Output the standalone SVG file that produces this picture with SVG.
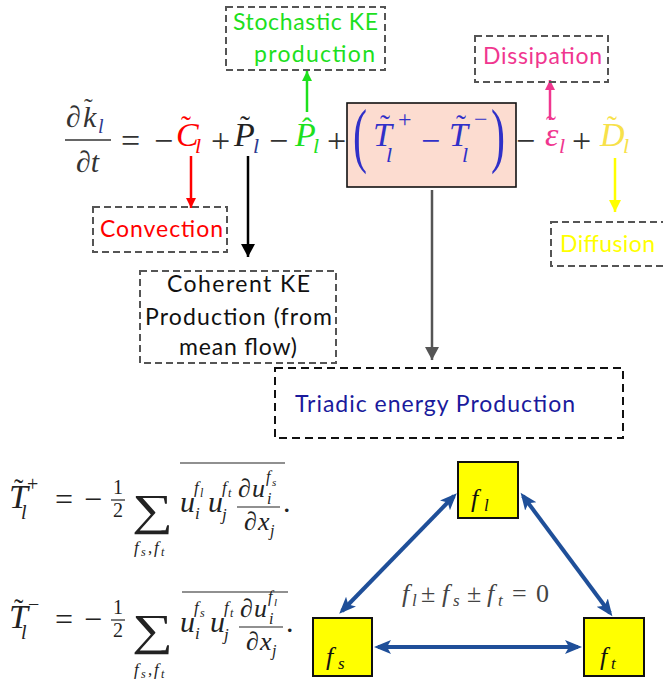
<svg xmlns="http://www.w3.org/2000/svg" width="663" height="694" viewBox="0 0 663 694">
<style>
.m{font-family:"Liberation Serif","Times New Roman",serif;}
.i{font-style:italic;}
.lab{font-family:Lato,"Liberation Sans",sans-serif;font-size:23px;}
.db{fill:none;stroke:#555;stroke-width:2;stroke-dasharray:7 4;}
.nd{fill:#ffff00;stroke:#111;stroke-width:2;}
.op{fill:#333;}
</style>
<defs>
<marker id="aG" markerUnits="userSpaceOnUse" markerWidth="12" markerHeight="10" refX="10" refY="5" orient="auto"><path d="M0,0 L10,5 L0,10 z" fill="#1de01d"/></marker>
<marker id="aP" markerUnits="userSpaceOnUse" markerWidth="12" markerHeight="10" refX="10" refY="5" orient="auto"><path d="M0,0 L10,5 L0,10 z" fill="#f0368f"/></marker>
<marker id="aR" markerUnits="userSpaceOnUse" markerWidth="12" markerHeight="10" refX="10" refY="5" orient="auto"><path d="M0,0 L10,5 L0,10 z" fill="#ff0000"/></marker>
<marker id="aY" markerUnits="userSpaceOnUse" markerWidth="14" markerHeight="12" refX="12" refY="6" orient="auto"><path d="M0,0 L12,6 L0,12 z" fill="#ffff00"/></marker>
<marker id="aK" markerUnits="userSpaceOnUse" markerWidth="14" markerHeight="14" refX="13" refY="7" orient="auto"><path d="M0,0 L13,7 L0,14 z" fill="#000"/></marker>
<marker id="aS" markerUnits="userSpaceOnUse" markerWidth="14" markerHeight="14" refX="13" refY="7" orient="auto"><path d="M0,0 L13,7 L0,14 z" fill="#555"/></marker>
<marker id="aB" markerUnits="userSpaceOnUse" markerWidth="18" markerHeight="16" refX="13" refY="7" orient="auto-start-reverse"><path d="M0,0 L17,7 L0,14 L4,7 z" fill="#1f4f99"/></marker>
</defs>

<!-- main equation -->
<g id="main-equation" class="m">
  <text x="66" y="127" font-size="30" fill="#333">∂</text>
  <text x="83" y="127" font-size="30" class="i" fill="#333">k</text>
  <text x="84" y="116" font-size="26" fill="#333">˜</text>
  <text x="98" y="133" font-size="20" class="i" fill="#2b3990">l</text>
  <line x1="65" y1="140" x2="111" y2="140" stroke="#333" stroke-width="1.6"/>
  <text x="76" y="172" font-size="30" fill="#333">∂<tspan class="i">t</tspan></text>
  <text x="121" y="152" font-size="34" class="op">=</text>
  <text x="154" y="152" font-size="34" class="op">−</text>
  <text x="176" y="146" font-size="34" class="i" fill="#ff0000">C</text>
  <text x="181" y="136" font-size="30" fill="#ff0000">˜</text>
  <text x="195" y="153" font-size="22" class="i" fill="#ff0000">l</text>
  <text x="211" y="152" font-size="34" class="op">+</text>
  <text x="234" y="146" font-size="34" class="i" fill="#222">P</text>
  <text x="240" y="136" font-size="30" fill="#222">˜</text>
  <text x="253" y="153" font-size="22" class="i" fill="#2b3990">l</text>
  <text x="269" y="152" font-size="34" class="op">−</text>
  <text x="295" y="146" font-size="34" class="i" fill="#1de01d">P</text>
  <text x="302" y="138" font-size="30" fill="#1de01d">ˆ</text>
  <text x="313" y="153" font-size="22" class="i" fill="#1de01d">l</text>
  <text x="327" y="152" font-size="34" class="op">+</text>
</g>

<g id="triadic-term">
  <rect x="347" y="103" width="169" height="84" fill="#fcdcd0" stroke="#111" stroke-width="1.6"/>
  <g class="m" fill="#3030c8">
    <text x="353" y="159" font-size="72" textLength="14" lengthAdjust="spacingAndGlyphs">(</text>
    <text x="373" y="146" font-size="34" class="i">T</text>
    <text x="380" y="135" font-size="30">˜</text>
    <text x="386" y="162" font-size="22" class="i">l</text>
    <text x="398" y="127" font-size="24">+</text>
    <text x="421" y="152" font-size="34">−</text>
    <text x="449" y="146" font-size="34" class="i">T</text>
    <text x="456" y="135" font-size="30">˜</text>
    <text x="462" y="162" font-size="22" class="i">l</text>
    <text x="474" y="127" font-size="24">−</text>
    <text x="491" y="159" font-size="72" textLength="14" lengthAdjust="spacingAndGlyphs">)</text>
  </g>
</g>

<g id="equation-tail" class="m">
  <text x="516" y="152" font-size="34" class="op">−</text>
  <text x="545" y="146" font-size="34" class="i" fill="#f0368f">ε</text>
  <text x="546" y="136" font-size="30" fill="#f0368f">˜</text>
  <text x="559" y="153" font-size="22" class="i" fill="#f0368f">l</text>
  <text x="572" y="152" font-size="34" class="op">+</text>
  <text x="600" y="146" font-size="34" class="i" fill="#f7e14a">D</text>
  <text x="607" y="136" font-size="30" fill="#f7e14a">˜</text>
  <text x="623" y="153" font-size="22" class="i" fill="#f7e14a">l</text>
</g>

<!-- connectors -->
<g id="connectors" fill="none" stroke-width="2.5">
  <line x1="307" y1="112" x2="307" y2="71" stroke="#1de01d" marker-end="url(#aG)"/>
  <line x1="550" y1="120" x2="550" y2="80" stroke="#f0368f" marker-end="url(#aP)"/>
  <line x1="191" y1="156" x2="191" y2="208" stroke="#ff0000" marker-end="url(#aR)"/>
  <line x1="248" y1="156" x2="248" y2="257" stroke="#000" marker-end="url(#aK)"/>
  <line x1="432" y1="190" x2="432" y2="360" stroke="#555" marker-end="url(#aS)"/>
  <line x1="615" y1="158" x2="615" y2="212" stroke="#ffff00" marker-end="url(#aY)"/>
  <line x1="342" y1="611" x2="454" y2="496" stroke="#1f4f99" stroke-width="4" marker-start="url(#aB)" marker-end="url(#aB)"/>
  <line x1="523" y1="496" x2="610" y2="613" stroke="#1f4f99" stroke-width="4" marker-start="url(#aB)" marker-end="url(#aB)"/>
  <line x1="378" y1="647" x2="578" y2="647" stroke="#1f4f99" stroke-width="4" marker-start="url(#aB)" marker-end="url(#aB)"/>
</g>

<!-- labels -->
<g id="stochastic">
  <rect class="db" x="226" y="7" width="159" height="63"/>
  <text class="lab" x="233" y="30" fill="#1de01d" textLength="145">Stochastic KE</text>
  <text class="lab" x="254" y="62" fill="#1de01d" textLength="121">production</text>
</g>
<g id="dissipation">
  <rect class="db" x="475" y="36" width="133" height="46"/>
  <text class="lab" x="483" y="64" fill="#f0368f" textLength="119">Dissipation</text>
</g>
<g id="convection">
  <rect class="db" x="93" y="207" width="134" height="45"/>
  <text class="lab" x="100" y="237" fill="#ff0000" textLength="123">Convection</text>
</g>
<g id="coherent">
  <rect class="db" x="140" y="271" width="196" height="92"/>
  <text class="lab" x="167" y="292" fill="#111" textLength="143">Coherent KE</text>
  <text class="lab" x="145" y="325" fill="#111" textLength="187">Production (from</text>
  <text class="lab" x="179" y="355" fill="#111" textLength="118">mean flow)</text>
</g>
<g id="diffusion">
  <rect class="db" x="551" y="222" width="122" height="44"/>
  <text class="lab" x="560" y="252" fill="#ffff00" textLength="95">Diffusion</text>
</g>
<g id="triadic">
  <rect x="275" y="368" width="348" height="70" fill="none" stroke="#111" stroke-width="2" stroke-dasharray="8 5"/>
  <text class="lab" x="295" y="412" fill="#1a1a9c" textLength="280">Triadic energy Production</text>
</g>

<!-- T+ equation -->
<g id="t-plus" class="m" fill="#222">
  <text x="9" y="508" font-size="34" class="i">T</text>
  <text x="14" y="498" font-size="28">˜</text>
  <text x="21" y="519" font-size="20" class="i">l</text>
  <text x="27" y="491" font-size="20">+</text>
  <text x="55" y="510" font-size="32">=</text>
  <text x="84" y="510" font-size="32">−</text>
  <text x="113" y="494" font-size="20">1</text>
  <line x1="111" y1="500" x2="125" y2="500" stroke="#222" stroke-width="1.2"/>
  <text x="113" y="517" font-size="20">2</text>
  <text x="132" y="525" font-size="44" textLength="41" lengthAdjust="spacingAndGlyphs">∑</text>
  <text y="553" font-size="17" class="i"><tspan x="134">f</tspan><tspan x="141" dy="3" font-size="12">s</tspan><tspan x="148" dy="-3" font-style="normal">,</tspan><tspan x="154">f</tspan><tspan x="161" dy="3" font-size="12">t</tspan></text>
  <line x1="180" y1="463" x2="285" y2="463" stroke="#222" stroke-width="1.2"/>
  <text x="180" y="512" font-size="30" class="i">u</text>
  <text x="194" y="493" font-size="17" class="i">f</text>
  <text x="200" y="497" font-size="12" class="i">l</text>
  <text x="195" y="519" font-size="17" class="i">i</text>
  <text x="208" y="512" font-size="30" class="i">u</text>
  <text x="222" y="493" font-size="17" class="i">f</text>
  <text x="228" y="497" font-size="12" class="i">t</text>
  <text x="222" y="520" font-size="17" class="i">j</text>
  <text x="238" y="497" font-size="26">∂</text>
  <text x="252" y="497" font-size="26" class="i">u</text>
  <text x="266" y="482" font-size="16" class="i">f</text>
  <text x="272" y="486" font-size="11" class="i">s</text>
  <text x="267" y="504" font-size="16" class="i">i</text>
  <line x1="237" y1="507" x2="280" y2="507" stroke="#222" stroke-width="1.2"/>
  <text x="244" y="530" font-size="26">∂</text>
  <text x="258" y="530" font-size="26" class="i">x</text>
  <text x="270" y="536" font-size="16" class="i">j</text>
  <text x="283" y="512" font-size="30">.</text>
</g>

<!-- T- equation -->
<g id="t-minus" class="m" fill="#222">
  <text x="9" y="628" font-size="34" class="i">T</text>
  <text x="14" y="618" font-size="28">˜</text>
  <text x="21" y="639" font-size="20" class="i">l</text>
  <text x="28" y="611" font-size="20">−</text>
  <text x="55" y="630" font-size="32">=</text>
  <text x="84" y="630" font-size="32">−</text>
  <text x="113" y="614" font-size="20">1</text>
  <line x1="111" y1="620" x2="125" y2="620" stroke="#222" stroke-width="1.2"/>
  <text x="113" y="637" font-size="20">2</text>
  <text x="132" y="645" font-size="44" textLength="41" lengthAdjust="spacingAndGlyphs">∑</text>
  <text y="675" font-size="17" class="i"><tspan x="134">f</tspan><tspan x="141" dy="3" font-size="12">s</tspan><tspan x="148" dy="-3" font-style="normal">,</tspan><tspan x="154">f</tspan><tspan x="161" dy="3" font-size="12">t</tspan></text>
  <line x1="182" y1="592" x2="288" y2="592" stroke="#222" stroke-width="1.2"/>
  <text x="180" y="632" font-size="30" class="i">u</text>
  <text x="194" y="613" font-size="17" class="i">f</text>
  <text x="200" y="617" font-size="12" class="i">s</text>
  <text x="195" y="639" font-size="17" class="i">i</text>
  <text x="210" y="632" font-size="30" class="i">u</text>
  <text x="224" y="613" font-size="17" class="i">f</text>
  <text x="230" y="617" font-size="12" class="i">t</text>
  <text x="224" y="640" font-size="17" class="i">j</text>
  <text x="240" y="617" font-size="26">∂</text>
  <text x="254" y="617" font-size="26" class="i">u</text>
  <text x="268" y="602" font-size="16" class="i">f</text>
  <text x="274" y="606" font-size="11" class="i">l</text>
  <text x="269" y="624" font-size="16" class="i">i</text>
  <line x1="239" y1="627" x2="283" y2="627" stroke="#222" stroke-width="1.2"/>
  <text x="246" y="650" font-size="26">∂</text>
  <text x="260" y="650" font-size="26" class="i">x</text>
  <text x="272" y="656" font-size="16" class="i">j</text>
  <text x="286" y="632" font-size="30">.</text>
</g>

<!-- triad nodes -->
<g id="node-fl">
  <rect class="nd" x="458" y="462" width="60" height="56"/>
  <text class="m i" x="471" y="507" font-size="26" fill="#111">f</text>
  <text class="m i" x="484" y="511" font-size="17" fill="#111">l</text>
</g>
<g id="node-fs">
  <rect class="nd" x="313" y="618" width="59" height="58"/>
  <text class="m i" x="326" y="665" font-size="26" fill="#111">f</text>
  <text class="m i" x="338" y="669" font-size="17" fill="#111">s</text>
</g>
<g id="node-ft">
  <rect class="nd" x="584" y="618" width="60" height="58"/>
  <text class="m i" x="600" y="665" font-size="26" fill="#111">f</text>
  <text class="m i" x="611" y="669" font-size="17" fill="#111">t</text>
</g>
<g id="triad-relation" class="m" fill="#444">
  <text x="402" y="602" font-size="26" class="i">f</text>
  <text x="412" y="606" font-size="17" class="i">l</text>
  <text x="421" y="602" font-size="26">±</text>
  <text x="442" y="602" font-size="26" class="i">f</text>
  <text x="453" y="606" font-size="17" class="i">s</text>
  <text x="467" y="602" font-size="26">±</text>
  <text x="487" y="602" font-size="26" class="i">f</text>
  <text x="498" y="606" font-size="17" class="i">t</text>
  <text x="512" y="602" font-size="26">=</text>
  <text x="536" y="602" font-size="26">0</text>
</g>
</svg>
